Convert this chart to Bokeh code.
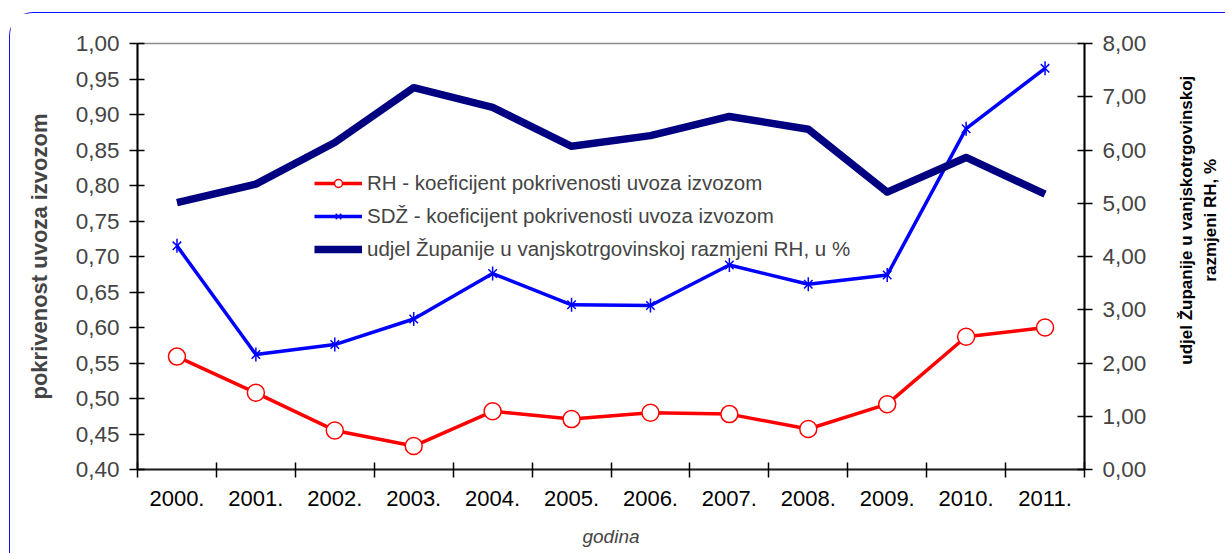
import math
from bokeh.plotting import figure
from bokeh.layouts import row
from bokeh.models import (Range1d, LinearAxis, FixedTicker, CustomJSTickFormatter,
                          Legend, LegendItem)
from bokeh.core.properties import value
from bokeh.embed import file_html
from bokeh.resources import INLINE

# ---- data ----
years = ["2000.", "2001.", "2002.", "2003.", "2004.", "2005.",
         "2006.", "2007.", "2008.", "2009.", "2010.", "2011."]
rh_coverage = [0.559, 0.508, 0.455, 0.433, 0.482, 0.471,
               0.480, 0.478, 0.457, 0.492, 0.587, 0.600]
sdz_coverage = [0.715, 0.562, 0.576, 0.612, 0.676, 0.632,
                0.631, 0.688, 0.661, 0.674, 0.880, 0.965]
county_share = [5.01, 5.36, 6.14, 7.17, 6.80, 6.07,
                6.27, 6.63, 6.39, 5.21, 5.86, 5.17]
left_ticks = [0.40, 0.45, 0.50, 0.55, 0.60, 0.65, 0.70, 0.75, 0.80, 0.85, 0.90, 0.95, 1.00]
right_ticks = [0, 1, 2, 3, 4, 5, 6, 7, 8]
right_title = "udjel Županije u vanjskotrgovinskoj\nrazmjeni RH, %"

FONT = "Liberation Sans"
H = 540

xs = [i + 0.5 for i in range(len(years))]

p = figure(width=1155, height=H, output_backend="svg", toolbar_location=None,
           x_range=Range1d(0, len(years)), y_range=Range1d(0.40, 1.00),
           min_border_left=127, min_border_right=81, min_border_top=30, min_border_bottom=84)
p.extra_y_ranges = {"share": Range1d(0, 8)}
p.xgrid.visible = False
p.ygrid.visible = False
p.outline_line_color = "#8c8c8c"
p.outline_line_width = 1.5
p.background_fill_color = "white"
p.border_fill_color = "white"

# x axis
xa = p.xaxis[0]
xa.ticker = FixedTicker(ticks=xs, minor_ticks=list(range(len(years) + 1)))
xa.formatter = CustomJSTickFormatter(args=dict(labels=years),
                                     code="return labels[Math.floor(tick)];")
xa.major_tick_in = 0
xa.major_tick_out = 0
xa.minor_tick_in = 7
xa.minor_tick_out = 8
xa.minor_tick_line_color = "black"
xa.minor_tick_line_width = 1.5
xa.axis_line_color = "#222222"
xa.axis_line_width = 2
xa.major_label_text_font = FONT
xa.major_label_text_font_size = "22px"
xa.major_label_text_color = "black"
xa.major_label_standoff = 13
xa.axis_label = "godina"
xa.axis_label_text_font = FONT
xa.axis_label_text_font_style = "italic"
xa.axis_label_text_font_size = "19px"
xa.axis_label_standoff = 17

# left axis
ya = p.yaxis[0]
ya.ticker = FixedTicker(ticks=left_ticks, minor_ticks=[])
ya.formatter = CustomJSTickFormatter(code="return tick.toFixed(2).replace('.', ',');")
ya.major_tick_in = 7
ya.major_tick_out = 8
ya.major_tick_line_width = 1.5
ya.axis_line_width = 2
ya.axis_line_color = "black"
ya.major_label_text_font = FONT
ya.major_label_text_font_size = "22.5px"
ya.major_label_standoff = 10
ya.axis_label = "pokrivenost uvoza izvozom"
ya.axis_label_text_font = FONT
ya.axis_label_text_font_style = "bold"
ya.axis_label_text_font_size = "22px"
ya.axis_label_standoff = 21

# right axis
ra = LinearAxis(y_range_name="share")
ra.ticker = FixedTicker(ticks=right_ticks, minor_ticks=[])
ra.formatter = CustomJSTickFormatter(code="return tick.toFixed(2).replace('.', ',');")
ra.major_tick_in = 7
ra.major_tick_out = 8
ra.major_tick_line_width = 1.5
ra.axis_line_width = 2
ra.axis_line_color = "black"
ra.major_label_text_font = FONT
ra.major_label_text_font_size = "22.5px"
ra.major_label_standoff = 10
p.add_layout(ra, "right")

# series
r_rh = p.line(xs, rh_coverage, line_color="#ff0000", line_width=3.5, line_join="round")
r_rh_m = p.scatter(xs, rh_coverage, marker="circle", size=17, fill_color="white",
                   line_color="#ff0000", line_width=1.5)
r_sdz = p.line(xs, sdz_coverage, line_color="#0000ff", line_width=3.5, line_join="round")
r_sdz_x = p.scatter(xs, sdz_coverage, marker="x", size=12,
                    line_color="#0000ff", line_width=1.5)
r_sdz_v = p.scatter(xs, sdz_coverage, marker="dash", size=14, angle=math.pi / 2,
                    line_color="#0000ff", line_width=1.5)
r_share = p.line(xs, county_share, y_range_name="share", line_color="#000080",
                 line_width=7.5, line_join="round")

legend = Legend(items=[
    LegendItem(label="RH - koeficijent pokrivenosti uvoza izvozom", renderers=[r_rh, r_rh_m]),
    LegendItem(label="SDŽ - koeficijent pokrivenosti uvoza izvozom",
               renderers=[r_sdz, r_sdz_x, r_sdz_v]),
    LegendItem(label="udjel Županije u vanjskotrgovinskoj razmjeni RH, u %", renderers=[r_share]),
], location=(177, 208))
legend.border_line_color = None
legend.background_fill_alpha = 0
legend.padding = 0
legend.margin = 0
legend.spacing = 9
legend.glyph_width = 48
legend.glyph_height = 20
legend.label_height = 20
legend.label_standoff = 5
legend.label_text_font = FONT
legend.label_text_font_size = "20.5px"
p.add_layout(legend, "center")

# right-axis title panel (text reads bottom-to-top, as in the reference)
q = figure(width=60, height=H, output_backend="svg", toolbar_location=None,
           x_range=Range1d(0, 60), y_range=Range1d(0, H),
           x_axis_type=None, y_axis_type=None,
           min_border_left=0, min_border_right=0, min_border_top=0, min_border_bottom=0)
q.xgrid.visible = False
q.ygrid.visible = False
q.outline_line_color = None
q.border_fill_color = "white"
q.text(x=[33], y=[H - 224], text=[right_title], angle=math.pi / 2,
       text_align="center", text_baseline="middle", text_font=value(FONT),
       text_font_style="bold", text_font_size="17px", text_line_height=1.3,
       text_color="black")

layout = row(p, q, spacing=0, margin=(12, 0, 0, 9))
layout.styles = {"border-top": "1.5px solid #1010ff", "border-left": "1.5px solid #1010ff",
                 "border-top-left-radius": "24px", "background": "white"}

open("out.html", "w").write(file_html(layout, INLINE))
